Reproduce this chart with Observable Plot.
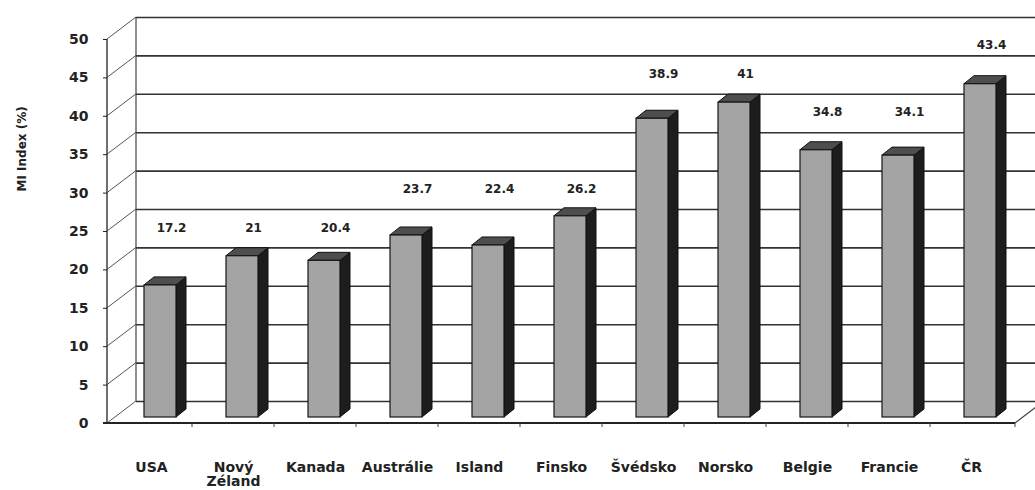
<!DOCTYPE html>
<html>
<head>
<meta charset="utf-8">
<script src="https://cdn.jsdelivr.net/npm/d3@7"></script>
<script src="https://cdn.jsdelivr.net/npm/@observablehq/plot@0.6"></script>
<style>
  body { margin: 0; background: #fff; }
</style>
</head>
<body>
<div id="chart"></div>
<script>
// MI index by country (%)
const countries = ["USA", "Nový Zéland", "Kanada", "Austrálie", "Island", "Finsko",
                   "Švédsko", "Norsko", "Belgie", "Francie", "ČR"];
const miIndex = [17.2, 21, 20.4, 23.7, 22.4, 26.2, 38.9, 41, 34.8, 34.1, 43.4];
const yTicks = [0, 5, 10, 15, 20, 25, 30, 35, 40, 45, 50];

const table = countries.map((country, i) => ({country, value: miIndex[i]}));

// pseudo-3D geometry, in pixels
const wall = {dx: 29, dy: -22};   // back wall offset from the front plane
const seat = {dx: 9, dy: -6};     // boxes stand part-way back on the floor
const depth = {dx: 10, dy: -8};   // depth of each box
const inset = 25;                 // gap between box and band edge

const ink = "#222";

// floor, side wall edges and the depth lines from each tick to the back wall
function floorAndWalls(index, scales) {
  const x = scales.x, y = scales.y;
  const [xa, xb] = x.range();
  const y0 = y(0), yTop = y(d3.max(yTicks));
  const g = d3.create("svg:g").attr("fill", "none").attr("stroke", ink);
  const seg = (x1, y1, x2, y2, w = 1.3, c = ink) =>
    g.append("line").attr("x1", x1).attr("y1", y1).attr("x2", x2).attr("y2", y2)
      .attr("stroke-width", w).attr("stroke", c);
  for (const t of yTicks) seg(xa, y(t), xa + wall.dx, y(t) + wall.dy, 1, "#555");
  seg(xa + wall.dx, y0 + wall.dy, xa + wall.dx, yTop + wall.dy, 1.2, "#444");
  seg(xa, y0, xa, yTop, 1.3);
  seg(xa - 4, y0, xb, y0, 1.8);
  seg(xb, y0, xb + wall.dx, y0 + wall.dy, 1.2, "#444");
  for (const c of countries.slice(1)) seg(x(c), y0, x(c), y0 + 4, 1, "#444");
  seg(xb, y0, xb, y0 + 4, 1, "#444");
  return g.node();
}

// top and side faces of each box
function boxFaces(index, scales) {
  const x = scales.x, y = scales.y;
  const bw = x.bandwidth() - 2 * inset;
  const g = d3.create("svg:g").attr("stroke", "#111").attr("stroke-width", 1).attr("stroke-linejoin", "round");
  for (const d of table) {
    const l = x(d.country) + inset + seat.dx, r = l + bw;
    const t = y(d.value) + seat.dy, b = y(0) + seat.dy;
    const side = [[r, t], [r + depth.dx, t + depth.dy], [r + depth.dx, b + depth.dy], [r, b]];
    const top = [[l, t], [l + depth.dx, t + depth.dy], [r + depth.dx, t + depth.dy], [r, t]];
    g.append("polygon").attr("points", side.join(" ")).attr("fill", "#1d1d1d");
    g.append("polygon").attr("points", top.join(" ")).attr("fill", "#4e4e4e");
  }
  return g.node();
}

const chart = Plot.plot({
  width: 1035,
  height: 490,
  marginLeft: 107,
  marginRight: 20,
  marginTop: 39,
  marginBottom: 67,
  style: {fontFamily: "DejaVu Sans", fontSize: "14px", fontWeight: "bold", color: ink, background: "#fff"},
  x: {domain: countries, padding: 0},
  y: {domain: [0, 50]},
  marks: [
    Plot.ruleY(yTicks, {dx: wall.dx, dy: wall.dy, stroke: "#333", strokeWidth: 1.6}),
    floorAndWalls,
    boxFaces,
    Plot.barY(table, {
      x: "country", y: "value", dx: seat.dx, dy: seat.dy,
      insetLeft: inset, insetRight: inset,
      fill: "#a4a4a4", stroke: "#161616", strokeWidth: 1.2
    }),
    Plot.axisY(yTicks, {tickSize: 4, tickPadding: 15, label: null, stroke: ink}),
    Plot.axisX({tickSize: 0, tickPadding: 39, label: null, tickFormat: d => d.replace(" ", "\n")}),
    // value labels sit in the wall band just above each box
    Plot.text(table, {
      x: "country",
      y: d => Math.min(Math.ceil((d.value + 3) / 5) * 5 + 0.5, 49.3),
      text: d => String(d.value),
      dx: 20, fontSize: 12, fill: ink
    }),
    Plot.text(["MI Index (%)"], {
      frameAnchor: "left", text: d => d, rotate: -90,
      dx: -85, dy: -40, fontSize: 12, fill: ink
    })
  ]
});

document.getElementById("chart").append(chart);
</script>
</body>
</html>
